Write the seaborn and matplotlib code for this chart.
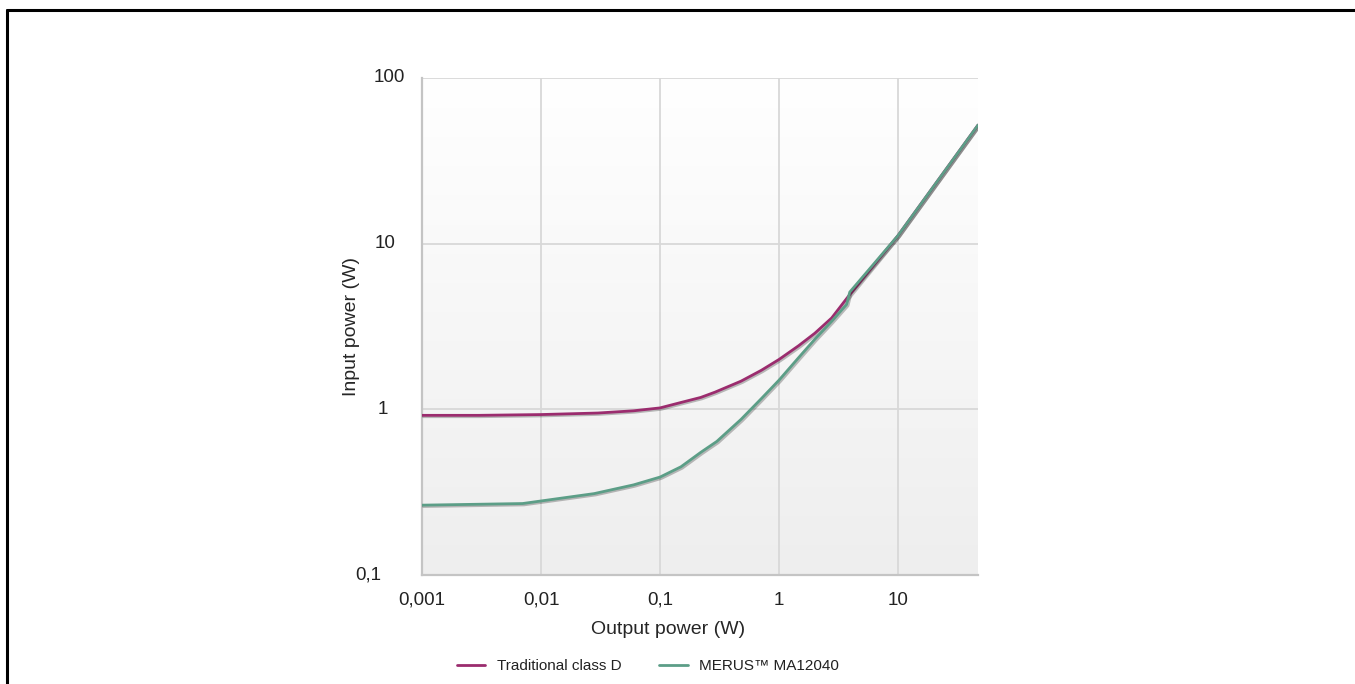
import numpy as np
import pandas as pd
import matplotlib
matplotlib.use("Agg")
import matplotlib.pyplot as plt
import matplotlib.patheffects as pe
import matplotlib.transforms as mtransforms
from matplotlib.lines import Line2D
import seaborn as sns

# DATA
trad_out_w = [0.001, 0.003, 0.01, 0.03, 0.06, 0.1, 0.15, 0.22, 0.29, 0.48, 0.71, 1.0, 1.46, 2.0, 2.77, 3.86, 10.0, 47.0]
trad_in_w  = [0.92, 0.92, 0.93, 0.95, 0.98, 1.02, 1.10, 1.18, 1.27, 1.48, 1.72, 2.0, 2.42, 2.88, 3.56, 4.85, 11.2, 52.0]

merus_out_w = [0.001, 0.007, 0.028, 0.06, 0.1, 0.15, 0.22, 0.3, 0.48, 0.71, 1.0, 1.46, 2.0, 2.77, 3.7, 3.93, 10.0, 47.0]
merus_in_w  = [0.264, 0.27, 0.31, 0.35, 0.39, 0.45, 0.55, 0.64, 0.87, 1.16, 1.50, 2.05, 2.65, 3.4, 4.3, 5.1, 11.2, 52.0]

series_names = ["Traditional class D", "MERUS\u2122 MA12040"]
series_colors = ["#9b2c6e", "#5c9e87"]

x_ticks = [0.001, 0.01, 0.1, 1, 10]
x_tick_labels = ["0,001", "0,01", "0,1", "1", "10"]
y_ticks = [0.1, 1, 10, 100]
y_tick_labels = ["0,1", "1", "10", "100"]

df = pd.concat([
    pd.DataFrame({"out": trad_out_w, "inp": trad_in_w, "series": series_names[0]}),
    pd.DataFrame({"out": merus_out_w, "inp": merus_in_w, "series": series_names[1]}),
], ignore_index=True)

sns.set_style("white")
plt.rcParams["font.family"] = ["Liberation Sans", "DejaVu Sans"]
plt.rcParams["text.color"] = "#222222"

W, H = 1355, 684
AX_L, AX_R, AX_T, AX_B = 422, 978, 78, 575
fig = plt.figure(figsize=(W / 100, H / 100), dpi=100)
ax = fig.add_axes([AX_L / W, 1 - AX_B / H, (AX_R - AX_L) / W, (AX_B - AX_T) / H])

# white (top) -> light grey (bottom) background
grad = np.linspace(0.0, 1.0, 256).reshape(-1, 1)
bg_cmap = matplotlib.colors.LinearSegmentedColormap.from_list("bg", ["#eeeeee", "#ffffff"])
ax.imshow(grad, extent=[0, 1, 0, 1], transform=ax.transAxes, aspect="auto",
          cmap=bg_cmap, origin="lower", zorder=0)

sns.lineplot(data=df, x="out", y="inp", hue="series", hue_order=series_names,
             palette=series_colors, linewidth=2.0, sort=True, ax=ax, zorder=3,
             legend=False)
for line in ax.get_lines():
    line.set_solid_joinstyle("round")
    line.set_path_effects([pe.SimpleLineShadow(offset=(1, -1), alpha=0.25), pe.Normal()])

ax.set_xscale("log")
ax.set_yscale("log")
ax.set_xlim(0.001, 47)
ax.set_ylim(0.1, 100)
ax.set_xticks(x_ticks)
ax.set_xticklabels(x_tick_labels)
ax.set_yticks(y_ticks)
ax.set_yticklabels([])
ax.minorticks_off()
ax.tick_params(axis="both", length=0, labelsize=13.5, colors="#222222")
ax.tick_params(axis="x", pad=12)

# y tick labels placed by hand (the original ones are not aligned)
ylab_x_px = [368, 383, 385, 389]
ytrans = mtransforms.blended_transform_factory(ax.transAxes, ax.transData)
for yv, lab, xp in zip(y_ticks, y_tick_labels, ylab_x_px):
    ax.text((xp - AX_L) / (AX_R - AX_L), yv, lab, transform=ytrans, ha="center",
            va="center", fontsize=13.5, color="#222222", clip_on=False)

ax.grid(True, color="#d8d8d8", linewidth=1.3, zorder=1)
ax.set_axisbelow(True)
for side in ["top", "right"]:
    ax.spines[side].set_visible(False)
for side in ["left", "bottom"]:
    ax.spines[side].set_color("#c4c4c4")
    ax.spines[side].set_linewidth(1.6)

ax.set_xlabel("Output power (W)", fontsize=14)
ax.xaxis.set_label_coords((668 - AX_L) / (AX_R - AX_L), (AX_B - 621) / (AX_B - AX_T))
ax.set_ylabel("Input power (W)", fontsize=14)
ax.yaxis.set_label_coords((360 - AX_L) / (AX_R - AX_L), 0.5)

handles = [Line2D([], [], color=c, linewidth=2.0) for c in series_colors]
fig.legend(handles, series_names, loc="center", bbox_to_anchor=(648 / W, 1 - 666 / H),
           ncol=2, frameon=False, fontsize=11, handlelength=1.85, handletextpad=0.75,
           columnspacing=2.5)

# frame lines on the left and top of the picture
fig.add_artist(Line2D([7 / W, 7 / W], [0, 1 - 10 / H], color="black", linewidth=2.2,
                      transform=fig.transFigure))
fig.add_artist(Line2D([7 / W, 1], [1 - 10 / H, 1 - 10 / H], color="black", linewidth=2.2,
                      transform=fig.transFigure))

plt.savefig("out.png", dpi=100)
